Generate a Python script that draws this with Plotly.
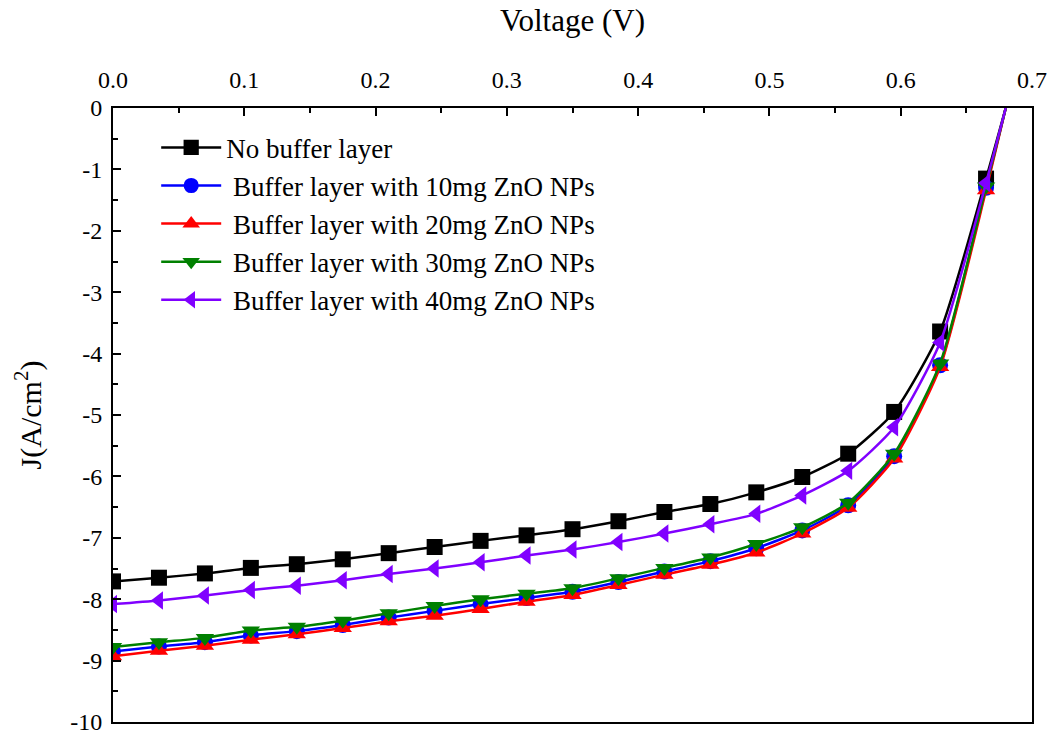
import plotly.graph_objects as go

voltage = [0.0, 0.035, 0.07, 0.105, 0.14, 0.175, 0.21, 0.245, 0.28, 0.315,
           0.35, 0.385, 0.42, 0.455, 0.49, 0.525, 0.56, 0.595, 0.63, 0.665, 0.68]

j_none = [-7.71, -7.65, -7.58, -7.49, -7.43, -7.35, -7.25, -7.15, -7.05, -6.96,
          -6.86, -6.73, -6.58, -6.45, -6.26, -6.01, -5.63, -4.95, -3.64, -1.15, 0.0]
j_10mg = [-8.85, -8.77, -8.70, -8.59, -8.52, -8.42, -8.30, -8.19, -8.08, -7.98,
          -7.88, -7.72, -7.55, -7.38, -7.17, -6.88, -6.47, -5.67, -4.19, -1.30, 0.0]
j_20mg = [-8.93, -8.84, -8.76, -8.66, -8.57, -8.47, -8.36, -8.27, -8.16, -8.04,
          -7.93, -7.77, -7.60, -7.44, -7.24, -6.93, -6.51, -5.71, -4.22, -1.34, 0.0]
j_30mg = [-8.78, -8.70, -8.63, -8.51, -8.45, -8.35, -8.23, -8.11, -8.00, -7.91,
          -7.82, -7.66, -7.49, -7.32, -7.10, -6.83, -6.43, -5.63, -4.16, -1.28, 0.0]
j_40mg = [-8.08, -8.02, -7.94, -7.85, -7.78, -7.69, -7.59, -7.50, -7.40, -7.29,
          -7.19, -7.07, -6.93, -6.78, -6.61, -6.31, -5.91, -5.20, -3.82, -1.22, 0.0]

series_names = ["No buffer layer",
                " Buffer layer with 10mg ZnO NPs",
                " Buffer layer with 20mg ZnO NPs",
                " Buffer layer with 30mg ZnO NPs",
                " Buffer layer with 40mg ZnO NPs"]
series_values = [j_none, j_10mg, j_20mg, j_30mg, j_40mg]
colors = ["#000000", "#0000ff", "#ff0000", "#008000", "#8000ff"]
symbols = ["square", "circle", "triangle-up", "triangle-down", "triangle-left"]

y_ticks = [0, -1, -2, -3, -4, -5, -6, -7, -8, -9, -10]
y_tick_text = ["0", "-1", "-2", "-3", "-4", "-5", "-6", "-7", "-8", "-9", "-10"]

tick_font = dict(family="Liberation Sans Narrow", size=24, color="black")

fig = go.Figure()
n = len(voltage)
for name, vals, col, sym in zip(series_names, series_values, colors, symbols):
    sizes = [16] * (n - 1) + [0]
    fig.add_trace(go.Scatter(
        x=voltage, y=vals, name=name, mode="lines+markers",
        line=dict(color=col, width=2.5, shape="spline", smoothing=0.6),
        marker=dict(symbol=sym, size=sizes, color=col, opacity=1, line=dict(width=0)),
    ))

fig.update_layout(
    width=1052, height=732,
    paper_bgcolor="white", plot_bgcolor="white",
    margin=dict(l=113, r=20, t=108, b=10, autoexpand=False),
    font=dict(family="Liberation Serif", color="black"),
    showlegend=True,
    legend=dict(
        x=0.047, y=0.975, xanchor="left", yanchor="top",
        bgcolor="rgba(0,0,0,0)", traceorder="normal",
        font=dict(family="Liberation Serif", size=27, color="black"),
        itemwidth=60, tracegroupgap=0,
    ),
)

fig.update_xaxes(
    range=[0, 0.7], side="top", dtick=0.1, tickformat=".1f", automargin=False,
    showline=True, linecolor="black", linewidth=2, mirror=True,
    ticks="inside", ticklen=8, tickwidth=2, tickcolor="black",
    minor=dict(ticks="inside", dtick=0.05, ticklen=5, tickwidth=2, tickcolor="black"),
    showgrid=False, zeroline=False, ticklabelstandoff=8, ticklabeloverflow="allow",
    tickfont=tick_font,
    title=dict(text="Voltage (V)", standoff=27,
               font=dict(family="Liberation Serif", size=31, color="black")),
)
fig.update_yaxes(
    range=[-10, 0], tickvals=y_ticks, ticktext=y_tick_text, automargin=False,
    showline=True, linecolor="black", linewidth=2, mirror=True,
    ticks="inside", ticklen=8, tickwidth=2, tickcolor="black",
    minor=dict(ticks="inside", dtick=0.5, ticklen=5, tickwidth=2, tickcolor="black"),
    showgrid=False, zeroline=False, ticklabeloverflow="allow", ticklabelstandoff=4,
    tickfont=tick_font,
    title=dict(text="J(A/cm<sup>2</sup>)", standoff=20,
               font=dict(family="Liberation Serif", size=30, color="black")),
)

fig.write_html("out.html", config={"displayModeBar": False},
               post_script="document.body.style.margin='0';document.body.style.overflow='hidden';")
